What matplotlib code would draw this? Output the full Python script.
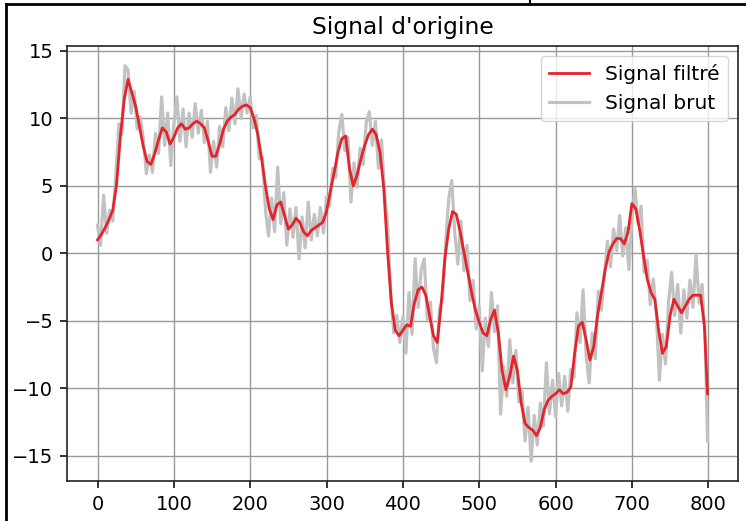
import numpy as np
import matplotlib
matplotlib.use("Agg")
import matplotlib.pyplot as plt
from matplotlib.lines import Line2D

# filtered signal, read every 5 samples (last sample = 799)
x_filt = np.append(np.arange(0, 800, 5), 799)
y_filt = [
    1.0, 1.4, 1.9, 2.5, 3.2, 5.1, 8.7, 11.4, 12.9, 11.9,
    10.9, 9.4, 7.9, 6.8, 6.6, 7.4, 8.4, 9.3, 9.0, 8.1,
    8.6, 9.3, 9.6, 9.2, 9.3, 9.6, 9.8, 9.6, 9.3, 8.3,
    7.2, 7.2, 8.1, 9.2, 9.8, 10.1, 10.3, 10.7, 10.9, 11.0,
    10.8, 10.0, 8.8, 7.0, 5.0, 3.3, 2.5, 3.6, 3.8, 2.8,
    1.8, 2.1, 2.6, 2.3, 1.6, 1.3, 1.7, 1.9, 2.1, 2.3,
    3.1, 4.6, 6.0, 7.5, 8.5, 8.7, 6.3, 5.0, 5.8, 7.0,
    8.0, 8.8, 9.2, 8.8, 7.5, 4.8, 0.1, -3.7, -5.7, -6.1,
    -5.7, -5.3, -5.4, -3.7, -2.7, -2.5, -3.1, -4.6, -6.1, -6.6,
    -3.9, -0.4, 1.8, 3.1, 2.9, 1.6, 0.1, -1.4, -2.9, -4.2,
    -5.1, -5.9, -6.1, -4.9, -4.2, -5.9, -8.7, -10.1, -9.1, -7.6,
    -8.7, -11.1, -12.6, -12.9, -13.1, -13.5, -12.9, -11.6, -10.9, -10.6,
    -10.4, -10.1, -10.4, -10.3, -9.9, -7.4, -5.4, -5.1, -6.4, -7.9,
    -6.9, -4.6, -2.9, -1.2, 0.1, 0.7, 1.1, 1.1, 0.7, 1.6,
    3.7, 3.3, 1.8, -0.1, -1.9, -2.9, -3.4, -5.7, -7.4, -6.9,
    -4.6, -3.4, -3.9, -4.4, -3.9, -3.4, -3.1, -3.1, -3.1, -5.4,
    -10.4,
]

# raw signal, read every 4 samples (last sample = 799)
x_raw = np.append(np.arange(0, 800, 4), 799)
y_raw = [
    2.1, 0.6, 4.3, 1.5, 3.2, 2.4, 5.8, 9.6, 8.8, 13.9,
    13.6, 10.4, 12.0, 9.2, 10.1, 8.5, 5.9, 7.3, 6.0, 8.9,
    7.4, 11.6, 8.0, 10.4, 6.5, 9.6, 11.6, 8.3, 10.7, 7.9,
    10.4, 8.6, 11.1, 8.9, 10.6, 8.2, 9.8, 6.0, 8.3, 6.4,
    9.4, 7.9, 10.8, 9.1, 11.5, 9.6, 12.2, 10.0, 11.8, 10.4,
    11.6, 9.3, 10.2, 7.0, 7.1, 3.2, 1.3, 4.1, 1.6, 6.4,
    2.2, 4.5, 0.6, 3.3, 1.2, 3.4, -0.4, 2.7, 0.4, 3.8,
    1.0, 2.9, 1.3, 3.4, 1.5, 4.2, 3.5, 6.3, 5.6, 9.0,
    10.3, 7.6, 8.6, 3.8, 6.7, 4.9, 7.8, 6.6, 9.7, 10.5,
    8.0, 9.8, 6.3, 8.4, 4.5, 2.1, -3.0, -5.9, -4.6, -6.6,
    -4.7, -7.4, -2.9, -6.0, -0.4, -4.0, -1.2, -0.4, -4.9, -3.6,
    -7.0, -8.1, -4.1, -3.3, 0.8, 4.0, 5.4, 1.5, -0.8, 2.4,
    -1.3, 0.6, -3.5, -2.0, -5.6, -3.9, -8.7, -4.8, -6.9, -2.9,
    -5.8, -3.9, -11.9, -8.4, -10.6, -6.4, -9.6, -7.2, -11.0, -10.2,
    -13.9, -11.4, -15.4, -12.0, -14.2, -11.1, -12.8, -8.1, -11.9, -9.4,
    -12.1, -8.9, -11.3, -9.1, -11.7, -8.6, -9.2, -4.4, -6.6, -2.7,
    -7.5, -9.6, -5.9, -7.8, -2.8, -4.2, -1.6, 0.9, -1.0, 1.8,
    0.2, 2.8, -0.2, 1.9, -1.2, 2.6, 4.8, 2.2, 3.5, -1.4,
    -0.5, -3.8, -1.9, -4.5, -9.4, -6.0, -8.2, -3.6, -1.4, -4.6,
    -2.3, -5.9, -2.7, -4.8, -2.0, -4.0, -0.1, -3.7, -2.3, -6.4,
    -13.9,
]

fig = plt.figure(figsize=(7.46, 5.21), dpi=100)
ax = fig.add_axes([67 / 746, 40 / 521, 671 / 746, 435 / 521])

raw_line, = ax.plot(x_raw, y_raw, color="#c2c2c2", lw=2.3, label="Signal brut", zorder=2)
filt_line, = ax.plot(x_filt, y_filt, color="#e3242b", lw=2.0, label="Signal filtré", zorder=3)

ax.set_title("Signal d'origine", fontsize=16.8, pad=8.4)
ax.grid(True, color="#999999", lw=1.0)
ax.set_xticks([0, 100, 200, 300, 400, 500, 600, 700, 800])
ax.set_yticks([-15, -10, -5, 0, 5, 10, 15])
ax.tick_params(labelsize=14, length=4.9, width=1.12, pad=4.9)
for s in ax.spines.values():
    s.set_linewidth(1.2)
    s.set_color("#222222")

ax.legend(handles=[filt_line, raw_line], loc="upper right", fontsize=14.5,
          framealpha=0.8, handlelength=2.0)

# border of the screenshot frame
fig.add_artist(Line2D([5.5 / 746, 5.5 / 746], [0, 1 - 4 / 521], color="black", lw=2.0))
fig.add_artist(Line2D([5.5 / 746, 1], [1 - 4 / 521, 1 - 4 / 521], color="black", lw=2.0))
fig.add_artist(Line2D([530 / 746, 530 / 746], [1 - 4 / 521, 1], color="black", lw=1.5))

fig.savefig("out.png", dpi=100)
